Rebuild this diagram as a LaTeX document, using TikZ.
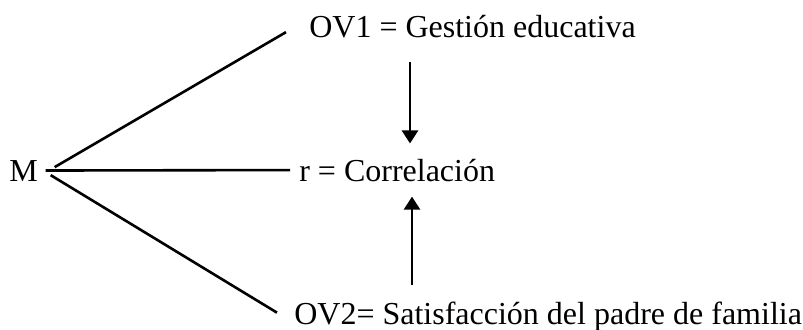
\documentclass[tikz,border=0pt]{standalone}
\usepackage{fontspec}
\setmainfont{Liberation Serif}
\usetikzlibrary{arrows.meta,positioning}
\tikzset{font=\fontsize{16}{19}\selectfont}
\tikzstyle{lbl}=[inner sep=0pt,anchor=base west]
\tikzset{every picture/.style={line width=1.3pt}}
\begin{document}
\begin{tikzpicture}[x=0.5pt,y=-0.5pt]
\useasboundingbox (0,0) rectangle (803,329);
\node[lbl] (M) at (8,181) {M};
\node[lbl] (OV1) at (308,37) {OV1 = Gestión educativa};
\node[lbl] (r) at (298,181) {r = Correlación};
\node[lbl] (OV2) at (293,324) {OV2= Satisfacción del padre de familia};
\path
([xshift=7.8pt,yshift=1.7pt]M.east) edge ([xshift=-11pt,yshift=-3pt]OV1.west)
(M.east) edge[shorten <=3.3pt,shorten >=4pt] (r.west)
([xshift=5.8pt,yshift=-2.3pt]M.east) edge ([xshift=-8pt,yshift=1.75pt]OV2.west);
\path[-{Triangle[width=8pt,length=6.5pt]}]
([xshift=51pt,yshift=-11.5pt]OV1.south west) edge ([xshift=56pt,yshift=7pt]r.north west)
([xshift=59.5pt,yshift=7.5pt]OV2.north west) edge ([xshift=57pt,yshift=-7pt]r.south west);
\end{tikzpicture}
\end{document}
